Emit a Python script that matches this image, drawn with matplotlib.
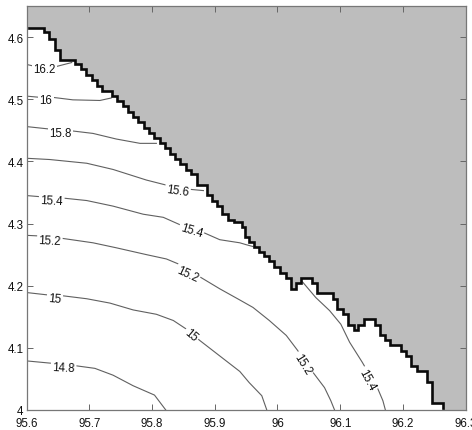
# -*- coding: utf-8 -*-
"""Contour map of a coastal field, land masked in grey."""

import matplotlib.pyplot as plt

# Staircase of the coast line (data coordinates):
coast_x = [95.604, 95.628, 95.628, 95.636, 95.636, 95.645, 95.645, 95.654,
           95.654, 95.678, 95.678, 95.687, 95.687, 95.695, 95.695, 95.704,
           95.704, 95.712, 95.712, 95.720, 95.720, 95.737, 95.737, 95.745,
           95.745, 95.754, 95.754, 95.762, 95.762, 95.770, 95.770, 95.778,
           95.778, 95.787, 95.787, 95.795, 95.795, 95.803, 95.803, 95.812,
           95.812, 95.820, 95.820, 95.828, 95.828, 95.837, 95.837, 95.845,
           95.845, 95.854, 95.854, 95.862, 95.862, 95.871, 95.871, 95.887,
           95.887, 95.896, 95.896, 95.904, 95.904, 95.912, 95.912, 95.921,
           95.921, 95.930, 95.930, 95.944, 95.944, 95.948, 95.948, 95.954,
           95.954, 95.963, 95.963, 95.970, 95.970, 95.979, 95.979, 95.987,
           95.987, 95.995, 95.995, 96.004, 96.004, 96.013, 96.013, 96.021,
           96.021, 96.030, 96.030, 96.038, 96.038, 96.055, 96.055, 96.063,
           96.063, 96.088, 96.088, 96.095, 96.095, 96.105, 96.105, 96.113,
           96.113, 96.122, 96.122, 96.129, 96.129, 96.138, 96.138, 96.155,
           96.155, 96.163, 96.163, 96.171, 96.171, 96.180, 96.180, 96.197,
           96.197, 96.205, 96.205, 96.213, 96.213, 96.222, 96.222, 96.238,
           96.238, 96.247, 96.247, 96.264, 96.264]
coast_y = [4.6145, 4.6145, 4.608, 4.608, 4.597, 4.597, 4.580, 4.580,
           4.563, 4.563, 4.556, 4.556, 4.548, 4.548, 4.539, 4.539,
           4.531, 4.531, 4.522, 4.522, 4.513, 4.513, 4.505, 4.505,
           4.497, 4.497, 4.489, 4.489, 4.480, 4.480, 4.471, 4.471,
           4.463, 4.463, 4.454, 4.454, 4.446, 4.446, 4.438, 4.438,
           4.429, 4.429, 4.421, 4.421, 4.412, 4.412, 4.404, 4.404,
           4.395, 4.395, 4.386, 4.386, 4.379, 4.379, 4.362, 4.362,
           4.346, 4.346, 4.337, 4.337, 4.328, 4.328, 4.315, 4.315,
           4.306, 4.306, 4.302, 4.302, 4.294, 4.294, 4.279, 4.279,
           4.271, 4.271, 4.263, 4.263, 4.255, 4.255, 4.247, 4.247,
           4.239, 4.239, 4.230, 4.230, 4.221, 4.221, 4.213, 4.213,
           4.195, 4.195, 4.204, 4.204, 4.213, 4.213, 4.204, 4.204,
           4.188, 4.188, 4.179, 4.179, 4.162, 4.162, 4.154, 4.154,
           4.137, 4.137, 4.129, 4.129, 4.137, 4.137, 4.146, 4.146,
           4.137, 4.137, 4.120, 4.120, 4.112, 4.112, 4.104, 4.104,
           4.095, 4.095, 4.087, 4.087, 4.070, 4.070, 4.062, 4.062,
           4.045, 4.045, 4.011, 4.011, 4.004]

# Contour lines, one pair of lists per line:
c162_x = [95.600, 95.613, 95.645, 95.672]
c162_y = [4.556, 4.553, 4.552, 4.559]
c160_x = [95.600, 95.622, 95.642, 95.674, 95.717, 95.735]
c160_y = [4.505, 4.503, 4.503, 4.499, 4.498, 4.502]
c158_x = [95.600, 95.637, 95.673, 95.706, 95.743, 95.781, 95.807]
c158_y = [4.456, 4.452, 4.449, 4.445, 4.436, 4.429, 4.429]
c156_x = [95.600, 95.637, 95.696, 95.738, 95.791, 95.826, 95.861, 95.882]
c156_y = [4.405, 4.403, 4.397, 4.387, 4.370, 4.361, 4.355, 4.353]
c154a_x = [95.600, 95.624, 95.658, 95.696, 95.738, 95.786, 95.818, 95.847,
           95.881, 95.908, 95.940, 95.950, 95.961]
c154a_y = [4.345, 4.343, 4.341, 4.337, 4.328, 4.315, 4.310, 4.297,
           4.286, 4.274, 4.269, 4.266, 4.263]
c154b_x = [96.040, 96.061, 96.083, 96.101, 96.115, 96.135, 96.160, 96.168,
           96.172]
c154b_y = [4.206, 4.181, 4.160, 4.138, 4.109, 4.077, 4.034, 4.015, 4.000]
c152_x = [95.600, 95.621, 95.658, 95.706, 95.743, 95.791, 95.823, 95.842,
          95.875, 95.908, 95.940, 95.961, 95.987, 96.014, 96.032, 96.057,
          96.075, 96.085, 96.091]
c152_y = [4.281, 4.280, 4.276, 4.269, 4.261, 4.250, 4.243, 4.235,
          4.215, 4.195, 4.177, 4.165, 4.144, 4.120, 4.096, 4.060,
          4.036, 4.015, 4.000]
c150_x = [95.600, 95.635, 95.656, 95.696, 95.733, 95.770, 95.807, 95.834,
          95.855, 95.876, 95.908, 95.940, 95.955, 95.975, 95.983]
c150_y = [4.189, 4.185, 4.184, 4.179, 4.172, 4.161, 4.154, 4.144,
          4.130, 4.112, 4.087, 4.062, 4.044, 4.023, 4.000]
c148_x = [95.600, 95.642, 95.680, 95.709, 95.738, 95.770, 95.804, 95.822]
c148_y = [4.079, 4.075, 4.071, 4.067, 4.056, 4.039, 4.024, 4.000]

# Inline contour labels:
lbl_txt = ['16.2', '16', '15.8', '15.6', '15.4', '15.4', '15.4',
           '15.2', '15.2', '15.2', '15', '15', '14.8']
lbl_x = [95.629, 95.631, 95.654, 95.841, 95.640, 95.863, 96.143,
         95.637, 95.857, 96.040, 95.645, 95.863, 95.659]
lbl_y = [4.548, 4.499, 4.446, 4.353, 4.337, 4.289, 4.049,
         4.272, 4.219, 4.074, 4.179, 4.121, 4.068]
lbl_rot = [0, 0, 0, -8, -3, -17, -62, -3, -25, -58, -5, -40, -3]

# Tick positions and labels:
x_ticks = [95.6, 95.7, 95.8, 95.9, 96.0, 96.1, 96.2, 96.3]
x_tick_lbl = ['95.6', '95.7', '95.8', '95.9', '96', '96.1', '96.2', '96.3']
y_ticks = [4.0, 4.1, 4.2, 4.3, 4.4, 4.5, 4.6]
y_tick_lbl = ['4', '4.1', '4.2', '4.3', '4.4', '4.5', '4.6']

plt.rcParams['font.family'] = 'Liberation Sans'

fig01 = plt.figure(figsize=(4.72, 4.31), dpi=100, facecolor='w')
ax = fig01.add_axes([26.5 / 472, 20.0 / 431, 439.2 / 472, 404.0 / 431])

# Grey land above the coast, up to the plot corners:
land_x = coast_x + [96.264, 96.3, 96.3, 95.6, 95.6]
land_y = coast_y + [4.0, 4.0, 4.65, 4.65, 4.6145]
ax.fill(land_x, land_y, color='#bdbdbd', lw=0, zorder=1)

# Contour lines:
for line_x, line_y in [(c162_x, c162_y), (c160_x, c160_y), (c158_x, c158_y),
                       (c156_x, c156_y), (c154a_x, c154a_y),
                       (c154b_x, c154b_y), (c152_x, c152_y), (c150_x, c150_y),
                       (c148_x, c148_y)]:
    ax.plot(line_x, line_y, color='#606060', lw=0.8, zorder=2)

# Coast line on top:
ax.plot(coast_x, coast_y, color='#0a0a0a', lw=1.9, zorder=3,
        solid_joinstyle='miter')

# Labels with a white box, which opens a gap in the line:
for txt, pos_x, pos_y, rot in zip(lbl_txt, lbl_x, lbl_y, lbl_rot):
    ax.text(pos_x, pos_y, txt, fontsize=8.3, color='#111111', rotation=rot,
            ha='center', va='center', rotation_mode='anchor', zorder=4,
            bbox=dict(facecolor='w', edgecolor='none', pad=1.2))

ax.set_xlim(95.6, 96.3)
ax.set_ylim(4.0, 4.65)
ax.set_xticks(x_ticks)
ax.set_xticklabels(x_tick_lbl)
ax.set_yticks(y_ticks)
ax.set_yticklabels(y_tick_lbl)
ax.tick_params(direction='in', top=True, right=True, length=4.0, width=0.7,
               color='#666666', labelsize=8.3, labelcolor='#111111')
ax.tick_params(axis='x', pad=5.0)
ax.tick_params(axis='y', pad=2.0)
for spine in ax.spines.values():
    spine.set_color('#777777')
    spine.set_linewidth(0.9)

fig01.savefig('out.png', dpi=100, facecolor='w')
